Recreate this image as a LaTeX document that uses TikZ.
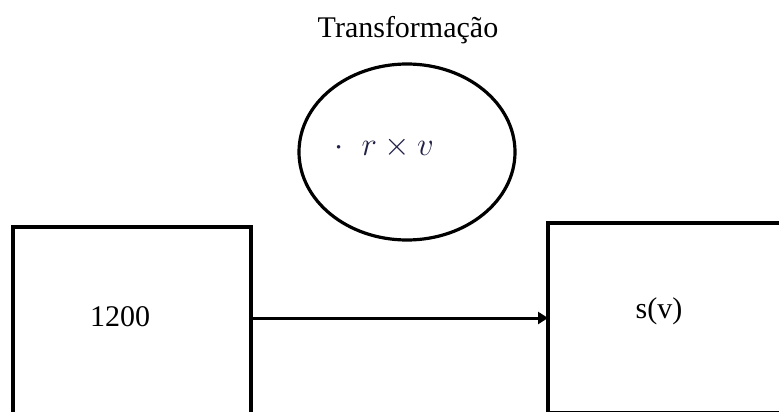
\documentclass[tikz,border=0pt]{standalone}
\usepackage{fontspec}
\setmainfont{Liberation Serif}
\usetikzlibrary{arrows.meta}
\definecolor{mathnavy}{rgb}{0.13,0.13,0.28}
\begin{document}
\begin{tikzpicture}[x=1pt,y=-1pt,
  frame/.style={draw=black,line width=3.2pt},
  label/.style={font=\fontsize{30}{36}\selectfont,inner sep=0pt},
  conn/.style={line width=3pt,-{Triangle[length=10pt,width=12pt]}}]
\useasboundingbox (0,0) rectangle (779,412);
\clip (0,0) rectangle (779,412);
\node[label] (title) at (408,30) {Transformação};
\draw[frame] (407,152) ellipse [x radius=108, y radius=88];
\node[inner sep=0pt] (circ) at (407,152) {};
\node[inner sep=0pt,text=mathnavy,font=\fontsize{24}{30}\selectfont] (expr) at (384,147) {\scalebox{1.32}{$\cdot\;\; r \times v$}};
\draw[frame] (13,450) -- (13,227) -- (251,227) -- (251,450);
\coordinate (lbe) at (251,318);
\draw[frame] (790,223) -- (548,223) -- (548,413) -- (790,413);
\coordinate (rbw) at (548,318);
\node[label] (n1200) at (120,317) {1200};
\node[label] (sv) at (659,311) {s(v)};
\draw[conn] (lbe) -- (rbw);
\end{tikzpicture}
\end{document}
